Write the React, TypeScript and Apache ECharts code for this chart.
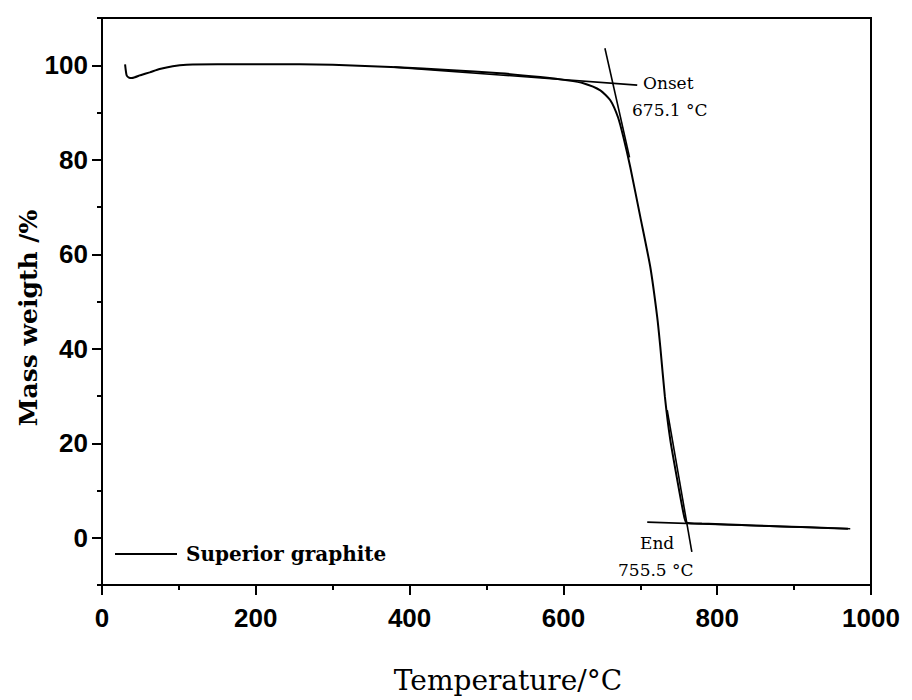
import React, { useEffect, useRef } from "react";
import * as echarts from "echarts";

const seriesName = "Superior graphite";
const massCurve: [number, number][] = [
  [30, 100.2], [32, 97.9], [35, 97.4], [39, 97.3], [50, 97.9], [62, 98.5], [75, 99.2],
  [92, 99.8], [110, 100.1], [150, 100.2], [200, 100.2], [257, 100.2], [300, 100.1],
  [384, 99.6], [450, 99.0], [518, 98.3], [570, 97.5], [605, 96.8], [626, 96.2],
  [648, 94.7], [661, 92.6], [671, 89.0], [678, 84.8], [687, 78.4], [700, 67.9],
  [713, 57.3], [722, 46.7], [726, 40.4], [732, 29.8], [739, 20.7], [748, 12.3],
  [756, 5.3], [760, 3.2], [780, 3.0], [850, 2.6], [920, 2.2], [970, 1.9],
];
const onsetFlat: [number, number][] = [[380, 99.6], [696, 95.8]];
const onsetSteep: [number, number][] = [[654, 103.6], [686, 80.5]];
const endFlat: [number, number][] = [[709, 3.3], [973, 1.9]];
const endSteep: [number, number][] = [[735, 27], [767, -3]];
const yLabelValues = [0, 20, 40, 60, 80, 100];
const xTicks = { min: 0, max: 1000, interval: 200 };
const yRange = { min: -10, max: 110 };
const onsetText = ["Onset", "675.1 °C"];
const endText = ["End", "755.5 °C"];
const xName = "Temperature/°C";
const yName = "Mass weigth /%";

export default function App() {
  const ref = useRef<HTMLDivElement>(null);
  useEffect(() => {
    if (!ref.current) return;
    const chart = echarts.init(ref.current, null, { renderer: "svg" });
    const black = "#000";
    const tickFont = { color: black, fontFamily: "Liberation Sans", fontWeight: "bold" as const, fontSize: 26 };
    const tangentStyle = { color: black, width: 1.6 };
    const mkTangent = (data: [number, number][]) => ({
      type: "line",
      data,
      symbol: "none",
      lineStyle: tangentStyle,
      itemStyle: { color: black },
      silent: true,
      z: 3,
    });
    const serif = "DejaVu Serif";
    chart.setOption({
      animation: false,
      backgroundColor: "#fff",
      grid: {
        left: 102, right: 41, top: 18, bottom: 115,
        show: true, borderColor: black, borderWidth: 2, backgroundColor: "transparent",
      },
      legend: {
        data: [seriesName],
        left: 115, top: 544, padding: 0,
        icon: "rect", itemWidth: 62, itemHeight: 2,
        textStyle: { color: black, fontFamily: serif, fontWeight: "bold", fontSize: 20, padding: [0, 0, 0, 4] },
      },
      xAxis: {
        type: "value", ...xTicks,
        axisLine: { show: true, onZero: false, lineStyle: { color: black, width: 2 } },
        axisTick: { show: true, inside: false, length: 10, lineStyle: { color: black, width: 2 } },
        minorTick: { show: true, splitNumber: 2, length: 5, lineStyle: { color: black, width: 2 } },
        splitLine: { show: false },
        axisLabel: { ...tickFont, margin: 20, formatter: (v: number) => String(v) },
      },
      yAxis: [
        {
          type: "value", ...yRange,
          axisLine: { show: true, onZero: false, lineStyle: { color: black, width: 2 } },
          axisTick: { show: true, inside: false, length: 10, customValues: yLabelValues, lineStyle: { color: black, width: 2 } },
          splitLine: { show: false },
          axisLabel: { ...tickFont, margin: 14, customValues: yLabelValues },
        },
        {
          type: "value", ...yRange, interval: 10, position: "left", offset: 0,
          axisLine: { show: false, onZero: false },
          axisTick: { show: true, inside: false, length: 5, lineStyle: { color: black, width: 2 } },
          splitLine: { show: false },
          axisLabel: { show: false },
        },
      ],
      series: [
        {
          name: seriesName, type: "line", data: massCurve, symbol: "none", smooth: 0.2,
          lineStyle: { color: black, width: 2 }, itemStyle: { color: black }, z: 4,
        },
        mkTangent(onsetFlat),
        mkTangent(onsetSteep),
        mkTangent(endFlat),
        mkTangent(endSteep),
      ],
      graphic: [
        { type: "text", x: 28, y: 318, rotation: Math.PI / 2,
          style: { text: yName, fill: black, fontFamily: serif, fontWeight: "bold", fontSize: 25, align: "center", verticalAlign: "middle" } },
        { type: "text", x: 508, y: 680,
          style: { text: xName, fill: black, fontFamily: serif, fontSize: 28, align: "center", verticalAlign: "middle" } },
        { type: "text", x: 643, y: 83,
          style: { text: onsetText[0], fill: black, fontFamily: serif, fontSize: 17, align: "left", verticalAlign: "middle" } },
        { type: "text", x: 632, y: 110,
          style: { text: onsetText[1], fill: black, fontFamily: serif, fontSize: 17, align: "left", verticalAlign: "middle" } },
        { type: "text", x: 640, y: 543,
          style: { text: endText[0], fill: black, fontFamily: serif, fontSize: 17, align: "left", verticalAlign: "middle" } },
        { type: "text", x: 618, y: 570,
          style: { text: endText[1], fill: black, fontFamily: serif, fontSize: 17, align: "left", verticalAlign: "middle" } },
      ],
    });
    return () => chart.dispose();
  }, []);
  return <div ref={ref} style={{ position: "absolute", left: 0, top: 0, width: 912, height: 700 }} />;
}
